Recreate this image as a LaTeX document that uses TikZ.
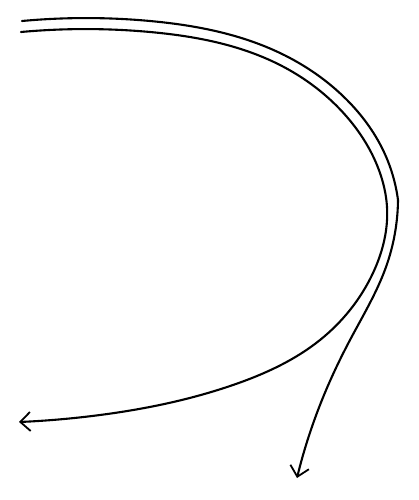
\documentclass[tikz,border=0pt]{standalone}
\usetikzlibrary{arrows.meta,hobby}
\begin{document}
\begin{tikzpicture}[x=1pt,y=-1pt,
  curve/.style={line width=2.1pt, line cap=round, line join=round},
  tip/.style={-{Straight Barb[length=10pt,width=19pt,line width=1.8pt]}}]
\useasboundingbox (0,0) rectangle (418,500);
% outer curve points
\coordinate (os) at (22,21);
\coordinate (ok) at (398,200);
\coordinate (oe) at (297,478);
% inner curve points
\coordinate (is) at (21,32);
\coordinate (ie) at (19,422);
% outer curve: top start -> kink at right -> down arrow
\draw[curve] (os) to[curve through={(150,21) (280,53) (347,100) (383,150)}] (ok);
\draw[curve, tip] (ok) to[curve through={(386,267) (350,340) (324,395)}] (oe);
% inner curve: top start -> right -> left arrow
\draw[curve, tip] (is) to[curve through={(150,32) (280,65) (347,117) (380,173) (387,207) (373,273) (320,340) (233,385) (100,415)}] (ie);
\end{tikzpicture}
\end{document}
